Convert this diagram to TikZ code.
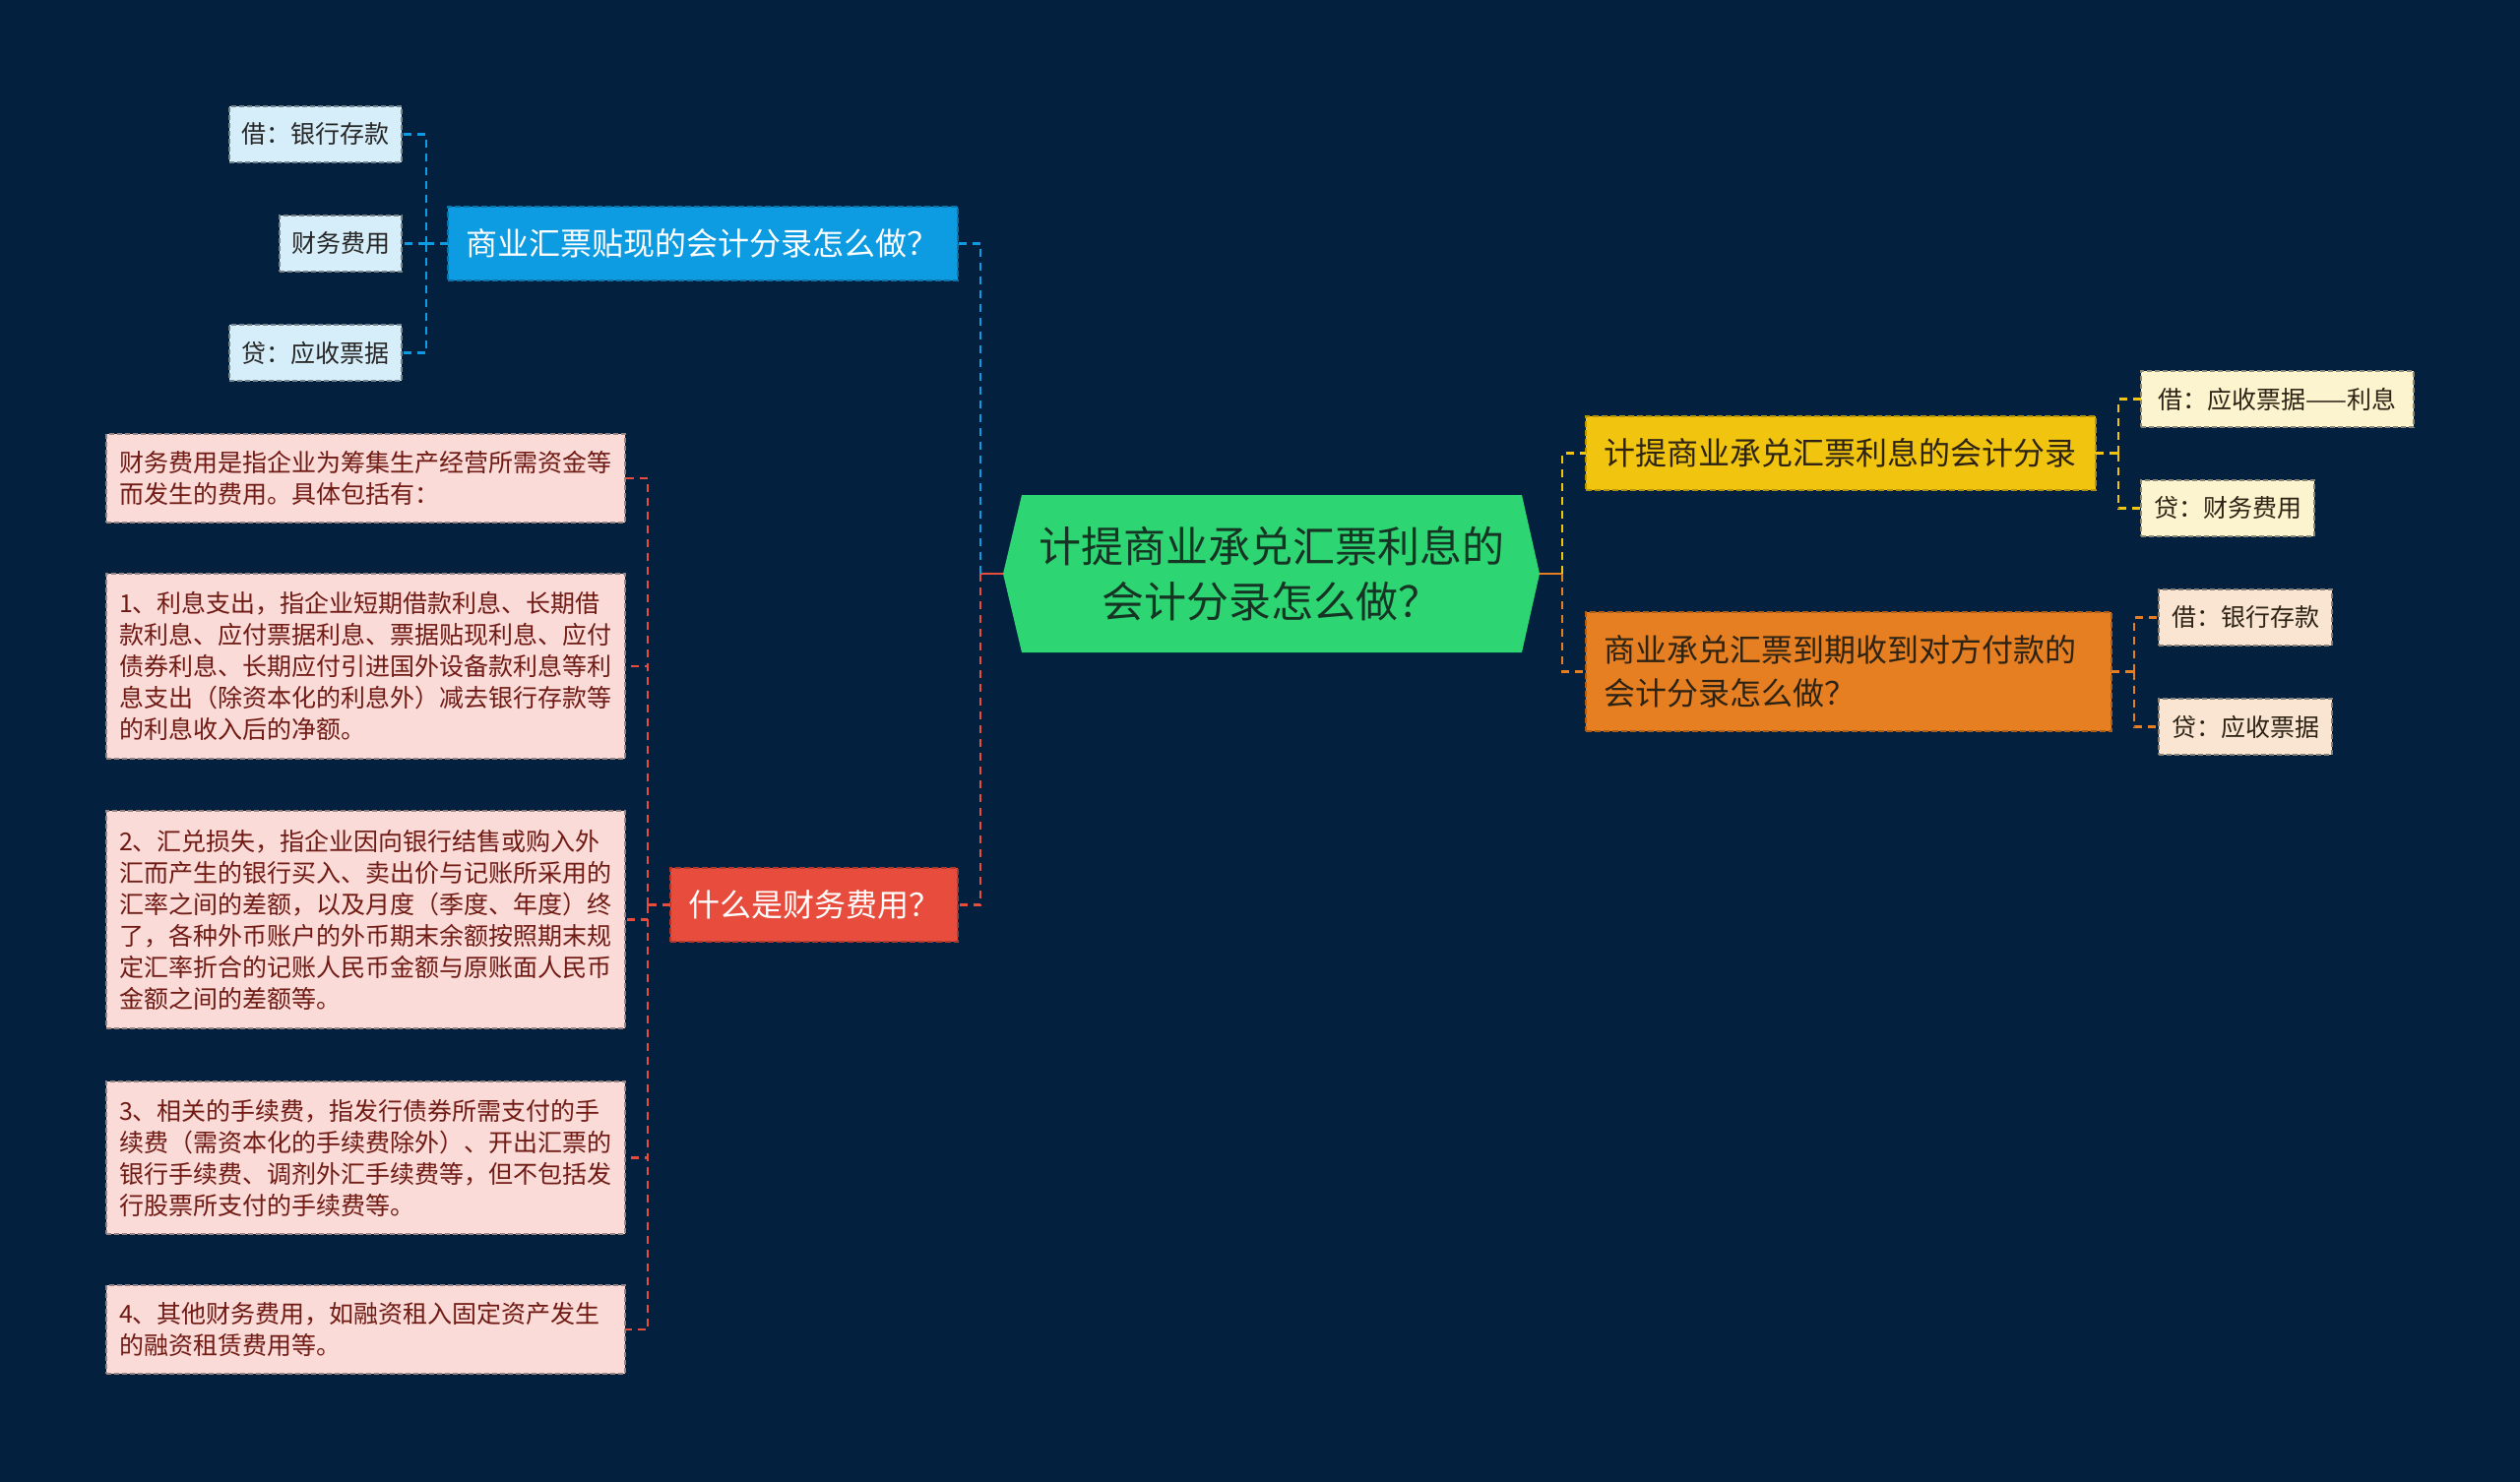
\documentclass[tikz,border=0pt]{standalone}
\usepackage{fontspec}
\setmainfont{Noto Sans CJK SC}
\usetikzlibrary{backgrounds}
\definecolor{bg}{RGB}{3,33,62}
\definecolor{cgreen}{RGB}{46,213,115}
\definecolor{cgreentext}{RGB}{22,52,36}
\definecolor{cblue}{RGB}{13,155,225}
\definecolor{cbluelight}{RGB}{214,238,250}
\definecolor{cred}{RGB}{231,76,60}
\definecolor{cpink}{RGB}{250,219,216}
\definecolor{cpinktext}{RGB}{112,26,20}
\definecolor{cyellow}{RGB}{241,196,15}
\definecolor{ccream}{RGB}{252,243,207}
\definecolor{corange}{RGB}{230,126,34}
\definecolor{cpeach}{RGB}{250,229,211}
\definecolor{cdark}{RGB}{45,35,20}
\begin{document}
\begin{tikzpicture}[x=0.5pt,y=-0.5pt,
  every node/.style={inner sep=0pt, outer sep=0pt},
  lvlone/.style={draw, dash pattern=on 3pt off 1.5pt, line width=0.8pt,
    font=\fontsize{16pt}{22pt}\selectfont, minimum height=37.5pt,
    inner xsep=9pt, align=left},
  leaf/.style={draw, dash pattern=on 2.5pt off 1.5pt, line width=0.7pt,
    font=\fontsize{12.5pt}{16pt}\selectfont, minimum height=28.5pt},
  pinkbox/.style={leaf, fill=cpink, draw=cpink!60!black, text=cpinktext,
    text width=250.5pt, inner xsep=6.5pt, align=left},
  conn/.style={line width=1.2pt, dash pattern=on 4pt off 3pt},
]
\useasboundingbox (0,0) rectangle (2560,1505);
% ---------- central node ----------
\node[minimum width=272.5pt, minimum height=80pt, text=cgreentext,
  align=center, font=\fontsize{21.5pt}{27.75pt}\selectfont] (c) at (1291.5,583)
  {计提商业承兑汇票利息的\\会计分录怎么做？};
\begin{scope}[on background layer]
  \fill[bg] (-10,-10) rectangle (2570,1515);
  \fill[cgreen] (c.west) -- ([xshift=9.5pt]c.north west) -- ([xshift=-9pt]c.north east)
    -- (c.east) -- ([xshift=-9pt]c.south east) -- ([xshift=9.5pt]c.south west) -- cycle;
\end{scope}

% ---------- left: blue branch ----------
\node[lvlone, fill=cblue, draw=cblue!75!black, text=white, text width=241pt]
  (blue) at (714,247.5) {商业汇票贴现的会计分录怎么做？};
\node[leaf, fill=cbluelight, draw=cbluelight!55!black, text=black!85, minimum width=87.5pt]
  (b1) at (320.5,136.5) {借：银行存款};
\node[leaf, fill=cbluelight, draw=cbluelight!55!black, text=black!85, minimum width=62pt]
  (b2) at (346,247.5) {财务费用};
\node[leaf, fill=cbluelight, draw=cbluelight!55!black, text=black!85, minimum width=87.5pt]
  (b3) at (320.5,358.5) {贷：应收票据};

% ---------- left: red branch ----------
\node[lvlone, fill=cred, draw=cred!75!black, text=white, text width=128pt]
  (red) at (827,919.5) {什么是财务费用？};
\node[pinkbox, minimum height=45pt] (r0) at (371.5,486)
  {财务费用是指企业为筹集生产经营所需资金等\\而发生的费用。具体包括有：};
\node[pinkbox, minimum height=94pt] (r1) at (371.5,677)
  {1、利息支出，指企业短期借款利息、长期借\\款利息、应付票据利息、票据贴现利息、应付\\债券利息、长期应付引进国外设备款利息等利\\息支出（除资本化的利息外）减去银行存款等\\的利息收入后的净额。};
\node[pinkbox, minimum height=110.5pt] (r2) at (371.5,934.5)
  {2、汇兑损失，指企业因向银行结售或购入外\\汇而产生的银行买入、卖出价与记账所采用的\\汇率之间的差额，以及月度（季度、年度）终\\了，各种外币账户的外币期末余额按照期末规\\定汇率折合的记账人民币金额与原账面人民币\\金额之间的差额等。};
\node[pinkbox, minimum height=77.5pt] (r3) at (371.5,1176.5)
  {3、相关的手续费，指发行债券所需支付的手\\续费（需资本化的手续费除外）、开出汇票的\\银行手续费、调剂外汇手续费等，但不包括发\\行股票所支付的手续费等。};
\node[pinkbox, minimum height=45pt] (r4) at (371.5,1351)
  {4、其他财务费用，如融资租入固定资产发生\\的融资租赁费用等。};

% ---------- right: yellow branch ----------
\node[lvlone, fill=cyellow, draw=cyellow!75!black, text=cdark, text width=241pt]
  (yel) at (1870,460.5) {计提商业承兑汇票利息的会计分录};
\node[leaf, fill=ccream, draw=ccream!55!black, text=cdark, minimum width=138.5pt]
  (y1) at (2313.5,405.5) {借：应收票据——利息};
\node[leaf, fill=ccream, draw=ccream!55!black, text=cdark, minimum width=88pt]
  (y2) at (2263,516.5) {贷：财务费用};

% ---------- right: orange branch ----------
\node[lvlone, fill=corange, draw=corange!75!black, text=cdark,
  minimum height=60.5pt, text width=249pt]
  (ora) at (1878,682.5) {商业承兑汇票到期收到对方付款的\\会计分录怎么做？};
\node[leaf, fill=cpeach, draw=cpeach!55!black, text=cdark, minimum width=88pt]
  (o1) at (2281,627.5) {借：银行存款};
\node[leaf, fill=cpeach, draw=cpeach!55!black, text=cdark, minimum width=88pt]
  (o2) at (2281,738.5) {贷：应收票据};

% ---------- joints ----------
\coordinate (jL) at (996,583);
\coordinate (jRt) at (1587,583);
\coordinate (jB) at (433,247.5);
\coordinate (jR) at (658,919.5);
\coordinate (jY) at (2152,460.5);
\coordinate (jO) at (2168,682.5);

% ---------- connectors ----------
\draw[line width=1.2pt, cred] (c.west) -- (jL);
\draw[conn, cblue] (jL) |- (blue.east);
\draw[conn, cred] (jL) |- (red.east);
\draw[line width=1.2pt, corange] (c.east) -- (jRt);
\draw[conn, cyellow] (jRt) |- (yel.west);
\draw[conn, corange] (jRt) |- (ora.west);

\draw[conn, cblue] (blue.west) -- (jB);
\draw[conn, cblue] (jB) |- (b1.east);
\draw[conn, cblue] (jB) -- (b2.east);
\draw[conn, cblue] (jB) |- (b3.east);

\draw[conn, cred] (red.west) -- (jR);
\foreach \n in {r0,r1,r2,r3,r4} \draw[conn, cred] (jR) |- (\n.east);

\draw[conn, cyellow] (yel.east) -- (jY);
\draw[conn, cyellow] (jY) |- (y1.west);
\draw[conn, cyellow] (jY) |- (y2.west);

\draw[conn, corange] (ora.east) -- (jO);
\draw[conn, corange] (jO) |- (o1.west);
\draw[conn, corange] (jO) |- (o2.west);
\end{tikzpicture}
\end{document}
